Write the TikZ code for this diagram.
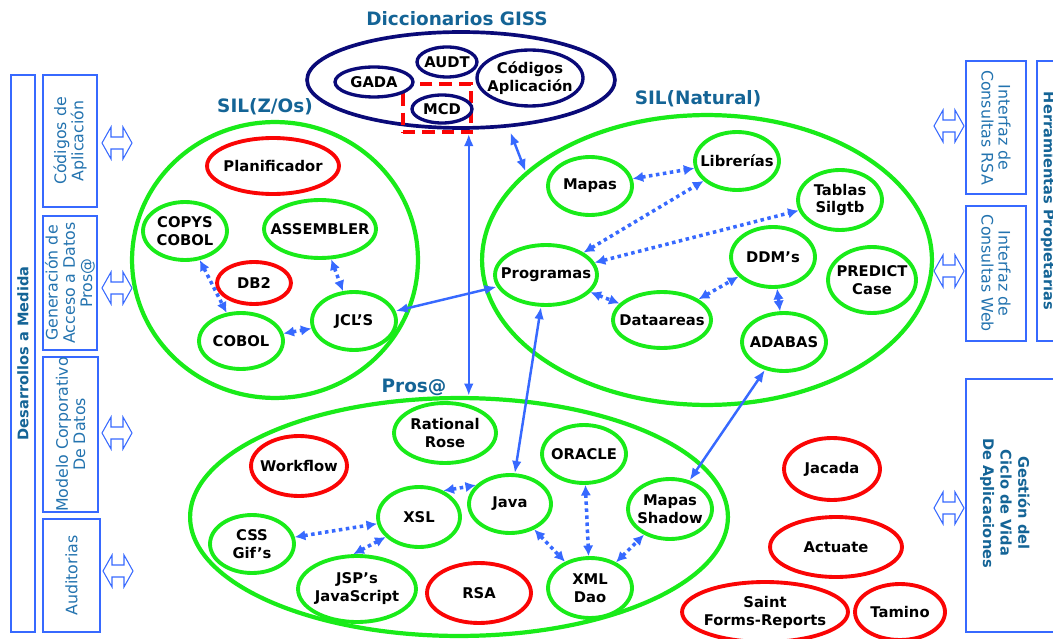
\documentclass[tikz,border=0pt]{standalone}
\usepackage{fontspec}
\setmainfont{DejaVu Sans}
\usetikzlibrary{shapes.geometric,arrows.meta}
\definecolor{lime}{RGB}{25,235,25}
\definecolor{hotred}{RGB}{250,5,5}
\definecolor{navy}{RGB}{10,10,120}
\definecolor{linkblue}{RGB}{55,105,255}
\definecolor{titleblue}{RGB}{20,100,150}
\definecolor{boxtext}{RGB}{35,115,175}
\def\hollowarrow(#1,#2){\draw[linkblue,line width=0.6pt,fill=white] (#1-15,#2) -- (#1-6,#2-16) -- (#1-6,#2-6) -- (#1+6,#2-6) -- (#1+6,#2-16) -- (#1+15,#2) -- (#1+6,#2+16) -- (#1+6,#2+6) -- (#1-6,#2+6) -- (#1-6,#2+16) -- cycle;}
\tikzset{
	sz/.style 2 args={minimum width=#1*0.04cm,minimum height=#2*0.04cm},
	boxsz/.style 2 args={minimum width=#1*0.02cm,minimum height=#2*0.02cm},
	zone/.style={ellipse,draw=lime,line width=2.4pt,inner sep=-20pt},
	comp/.style={ellipse,draw=lime,line width=2.2pt,fill=white,inner sep=-20pt,align=center,font=\bfseries\fontsize{8.4}{10.2}\selectfont},
	redcomp/.style={comp,draw=hotred},
	dictitem/.style={comp,draw=navy,line width=1.9pt},
	zonetitle/.style={text=titleblue,font=\bfseries\fontsize{10.5}{12}\selectfont},
	sidebox/.style={draw=linkblue,line width=1.2pt,text=boxtext,align=center,inner sep=0pt,font=\fontsize{9}{9.8}\selectfont},
	sidehead/.style={sidebox,text=titleblue,font=\bfseries\fontsize{8.3}{10}\selectfont},
	dotarrow/.style={linkblue,line width=2pt,dash pattern=on 2pt off 2pt,{Latex[length=6pt,width=6pt]}-{Latex[length=6pt,width=6pt]}},
	solidarrow/.style={linkblue,line width=1.4pt,{Latex[length=7pt,width=5.5pt]}-{Latex[length=7pt,width=5.5pt]}}
}
\begin{document}
\begin{tikzpicture}[x=0.02cm,y=-0.02cm]
			%%%%% START %%%%%
			\useasboundingbox (0,0) rectangle (1053,638);
			
			% side panels, left
			\node[sidehead,rotate=90,boxsz={557}{24}] (medida) at (23,353.5) {Desarrollos a Medida};
			\node[sidebox,rotate=90,boxsz={132}{54}] (codapp) at (70,141) {Códigos de\\Aplicación};
			\node[sidebox,rotate=90,boxsz={134}{54}] (genacc) at (70,283) {Generación de\\Acceso a Datos\\Pros@};
			\node[sidebox,rotate=90,boxsz={155}{55}] (modcorp) at (70.5,434.5) {Modelo Corporativo\\De Datos};
			\node[sidebox,rotate=90,boxsz={113}{57}] (audit) at (71.5,575.5) {Auditorias};
			\hollowarrow(117,143)
			\hollowarrow(117,288)
			\hollowarrow(117,433)
			\hollowarrow(118,571)
			
			% side panels, right
			\node[sidehead,rotate=-90,boxsz={280}{22}] (herr) at (1048,201) {Herramientas Propietarias};
			\node[sidebox,rotate=-90,boxsz={133}{60}] (consrsa) at (996,127.5) {Interfaz de\\Consultas RSA};
			\node[sidebox,rotate=-90,boxsz={135}{60}] (consweb) at (996,273.5) {Interfaz de\\Consultas Web};
			\node[sidebox,rotate=-90,boxsz={253}{94}] (gestion) at (1013,505.5) {};
			\node[sidehead,draw=none,rotate=-90] (gestiontxt) at (1005,503) {Gestión del\\Ciclo de Vida\\De Aplicaciones};
			\hollowarrow(949,126)
			\hollowarrow(949,271)
			\hollowarrow(949,508)
			
			% diccionarios
			\node[zonetitle] (dictitle) at (457,19) {Diccionarios GISS};
			\node[ellipse,draw=navy,line width=2.1pt,sz={154}{48}] (dict) at (461,80) {};
			\node[draw=hotred,line width=2pt,dash pattern=on 7pt off 4pt,boxsz={68}{48}] (mcdbox) at (437,108) {};
			\node[dictitem,sz={39}{15}] (gada) at (374,82) {GADA};
			\node[dictitem,sz={30}{15}] (audt) at (447,62) {AUDT};
			\node[dictitem,sz={30}{14}] (mcd) at (442,109) {MCD};
			\node[dictitem,sz={53}{28}] (codigos) at (530,78) {Códigos\\Aplicación};
			
			% SIL(Z/Os)
			\node[zonetitle] (zostitle) at (265,107) {SIL(Z/Os)};
			\node[zone,sz={143}{138}] (zos) at (275,260) {};
			\node[redcomp,sz={66}{28}] (planif) at (273,166) {Planificador};
			\node[comp,sz={42}{29}] (copys) at (185,231) {COPYS\\COBOL};
			\node[comp,sz={56}{29}] (assembler) at (320,229) {ASSEMBLER};
			\node[redcomp,sz={37}{21}] (db2) at (254,283) {DB2};
			\node[comp,sz={42}{28}] (cobol) at (241,341) {COBOL};
			\node[comp,sz={42}{29}] (jcl) at (354,321) {JCL’S};
			
			% SIL(Natural)
			\node[zonetitle] (nattitle) at (698,99) {SIL(Natural)};
			\node[zone,sz={225}{145}] (natural) at (707,260) {};
			\node[comp,sz={42}{29}] (mapas) at (590,186) {Mapas};
			\node[comp,sz={42}{29}] (librerias) at (737,161) {Librerías};
			\node[comp,sz={42}{30}] (tablas) at (840,200) {Tablas\\Silgtb};
			\node[comp,sz={51}{30}] (programas) at (546,275) {Programas};
			\node[comp,sz={42}{30}] (ddm) at (773,257) {DDM’s};
			\node[comp,sz={44}{33}] (predict) at (872,280) {PREDICT\\Case};
			\node[comp,sz={49}{28}] (dataareas) at (662,320) {Dataareas};
			\node[comp,sz={42}{29}] (adabas) at (784,342) {ADABAS};
			
			% Pros@
			\node[zonetitle] (prostitle) at (414,387) {Pros@};
			\node[zone,sz={269}{119}] (pros) at (459,517) {};
			\node[comp,sz={51}{30}] (rational) at (445,433) {Rational\\Rose};
			\node[redcomp,sz={48}{30}] (workflow) at (299,466) {Workflow};
			\node[comp,sz={42}{29}] (oracle) at (584,454) {ORACLE};
			\node[comp,sz={41}{30}] (xsl) at (419,517) {XSL};
			\node[comp,sz={41}{29}] (java) at (510,504) {Java};
			\node[comp,sz={42}{30}] (shadow) at (670,509) {Mapas\\Shadow};
			\node[comp,sz={42}{29}] (css) at (252,544) {CSS\\Gif’s};
			\node[comp,sz={59}{33}] (jsp) at (357,589) {JSP’s\\JavaScript};
			\node[redcomp,sz={52}{30}] (rsa) at (479,593) {RSA};
			\node[comp,sz={42}{30}] (xml) at (590,588) {XML\\Dao};
			
			% herramientas sueltas
			\node[redcomp,sz={48}{31}] (jacada) at (832,469) {Jacada};
			\node[redcomp,sz={66}{30}] (actuate) at (836,547) {Actuate};
			\node[redcomp,sz={83}{30}] (saint) at (765,612) {Saint\\Forms-Reports};
			\node[redcomp,sz={45}{28}] (tamino) at (900,612) {Tamino};
			
			% dotted links
			\draw[dotarrow] (copys) -- (cobol);
			\draw[dotarrow] (assembler) -- (jcl);
			\draw[dotarrow] (cobol) -- (jcl);
			\draw[dotarrow] (mapas) -- (librerias);
			\draw[dotarrow] (programas) -- (librerias);
			\draw[dotarrow] (programas) -- (tablas);
			\draw[dotarrow] (programas) -- (dataareas);
			\draw[dotarrow] (dataareas) -- (ddm);
			\draw[dotarrow] (ddm) -- (adabas);
			\draw[dotarrow] (xsl.47) -- (java.151);
			\draw[dotarrow] (css) -- (xsl);
			\draw[dotarrow] (xsl.211) -- (jsp.96);
			\draw[dotarrow] (java) -- (xml);
			\draw[dotarrow] (oracle) -- (xml);
			\draw[dotarrow] (xml) -- (shadow);
			
			% solid links
			\coordinate (mcdfoot) at ([xshift=-0.08cm]mcdbox.south east);
			\draw[solidarrow] (mcdfoot) -- (mcdfoot |- pros.north);
			\draw[solidarrow,shorten <=3pt] (dict.-45) -- (natural.154);
			\draw[solidarrow] (jcl) -- (programas);
			\draw[solidarrow] (programas) -- (java);
			\draw[solidarrow] (adabas) -- (shadow);
			%%%%% END %%%%%
		\end{tikzpicture}
\end{document}
